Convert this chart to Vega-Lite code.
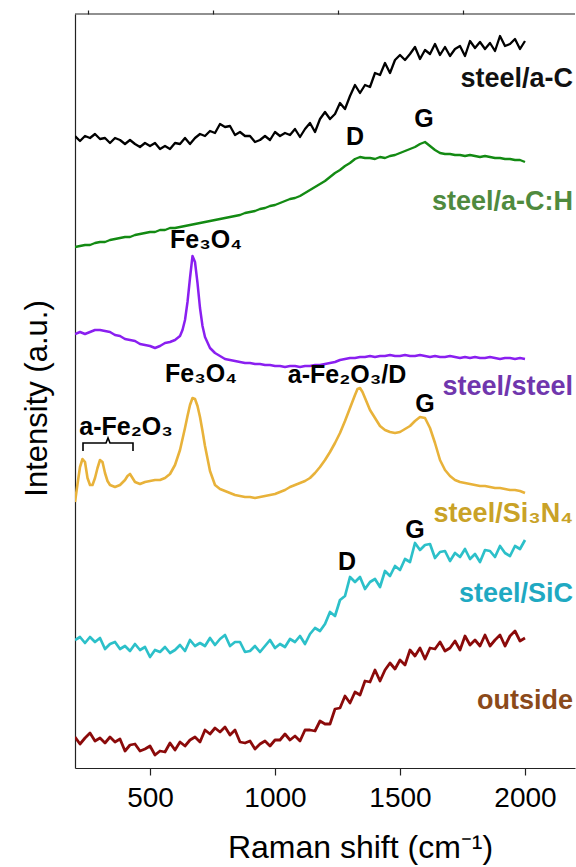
{
  "$schema": "https://vega.github.io/schema/vega-lite/v6.json",
  "width": 500,
  "height": 754,
  "autosize": {"type": "none"},
  "padding": {"left": 75, "top": 14, "right": 1, "bottom": 99},
  "config": {"view": {"stroke": null}, "font": "Liberation Sans"},
  "resolve": {
    "scale": {"color": "independent", "strokeWidth": "independent"},
    "axis": {"x": "independent", "y": "independent"}
  },
  "layer": [
    {
      "data": {"values": [{}]},
      "mark": {"type": "rule", "color": "#222222", "strokeWidth": 1.2},
      "encoding": {"y": {"datum": 754, "type": "quantitative", "axis": null}}
    },
    {
      "data": {"values": [
        {"w":200,"k":632,"g":521,"p":434,"n":266,"c":128,"r":31},
        {"w":210,"n":284},
        {"w":220,"k":627,"g":522,"p":436,"n":301,"c":131,"r":24},
        {"w":230,"n":309},
        {"w":240,"k":632,"g":523,"p":434,"n":306,"c":125,"r":30},
        {"w":250,"n":290},
        {"w":260,"k":630,"g":523,"p":436,"n":283,"c":131,"r":35},
        {"w":270,"n":283},
        {"w":280,"k":634,"g":525,"p":438,"n":290,"c":126,"r":27},
        {"w":290,"n":300},
        {"w":300,"k":629,"g":526,"p":438,"n":308,"c":130,"r":30},
        {"w":310,"n":306},
        {"w":320,"k":630,"g":526,"p":437,"n":295,"c":119,"r":25},
        {"w":330,"n":287},
        {"w":340,"k":625,"g":528,"p":436,"n":283,"c":124,"r":31},
        {"w":360,"k":630,"g":529,"p":433,"n":281,"c":126,"r":26},
        {"w":380,"k":628,"g":530,"p":432,"n":283,"c":119,"r":29},
        {"w":400,"k":624,"g":531,"p":429,"n":288,"c":122,"r":17},
        {"w":410,"n":292},
        {"w":420,"k":628,"g":531,"p":428,"n":294,"c":117,"r":23},
        {"w":430,"n":290},
        {"w":440,"k":624,"g":533,"p":427,"n":286,"c":124,"r":24},
        {"w":460,"k":621,"g":534,"p":424,"n":284,"c":118,"r":17},
        {"w":480,"k":625,"g":535,"p":423,"n":286,"c":121,"r":19},
        {"w":500,"k":622,"g":536,"p":422,"n":287,"c":111,"r":22},
        {"w":520,"k":625,"g":536,"p":420,"n":288,"c":118,"r":13},
        {"w":540,"k":619,"g":538,"p":422,"n":288,"c":116,"r":17},
        {"w":560,"k":622,"g":538,"p":425,"n":290,"c":121,"r":16},
        {"w":580,"k":619,"g":540,"p":426,"n":294,"c":115,"r":25},
        {"w":600,"k":625,"g":540,"p":428,"n":303,"c":118,"r":18},
        {"w":620,"k":624,"g":541,"p":432,"n":318,"c":123,"r":26},
        {"w":630,"p":438},
        {"w":640,"k":630,"g":542,"p":448,"n":340,"c":117,"r":22},
        {"w":650,"p":466,"n":352},
        {"w":660,"k":624,"g":543,"p":490,"n":363,"c":128,"r":28},
        {"w":670,"p":512,"n":370},
        {"w":680,"k":630,"g":544,"p":506,"n":369,"c":122,"r":31},
        {"w":690,"p":485,"n":362},
        {"w":700,"k":634,"g":545,"p":460,"n":351,"c":125,"r":26},
        {"w":710,"p":442,"n":337},
        {"w":720,"k":632,"g":546,"p":431,"n":322,"c":122,"r":38},
        {"w":740,"k":637,"g":547,"p":420,"n":297,"c":130,"r":34},
        {"w":760,"k":635,"g":548,"p":415,"n":283,"c":123,"r":40},
        {"w":780,"k":644,"g":549,"p":412,"n":279,"c":129,"r":36},
        {"w":800,"k":641,"g":550,"p":409,"n":277,"c":133,"r":41},
        {"w":820,"k":642,"g":551,"p":408,"n":275,"c":122,"r":33},
        {"w":840,"k":633,"g":552,"p":407,"n":273,"c":126,"r":38},
        {"w":860,"k":636,"g":553,"p":406,"n":272,"c":126,"r":26},
        {"w":880,"k":632,"g":555,"p":405,"n":271,"c":116,"r":25},
        {"w":900,"k":632,"g":556,"p":405,"n":271,"c":117,"r":27},
        {"w":920,"k":626,"g":557,"p":404,"n":270,"c":122,"r":19},
        {"w":940,"k":628,"g":559,"p":404,"n":271,"c":116,"r":24},
        {"w":960,"k":632,"g":560,"p":403,"n":272,"c":122,"r":27},
        {"w":980,"k":628,"g":562,"p":403,"n":273,"c":128,"r":22},
        {"w":1000,"k":636,"g":563,"p":402,"n":274,"c":120,"r":28},
        {"w":1020,"k":632,"g":565,"p":402,"n":276,"c":124,"r":28},
        {"w":1040,"k":635,"g":567,"p":401,"n":278,"c":121,"r":34},
        {"w":1060,"k":633,"g":569,"p":402,"n":281,"c":129,"r":28},
        {"w":1080,"k":639,"g":570,"p":402,"n":283,"c":126,"r":32},
        {"w":1100,"k":631,"g":572,"p":401,"n":285,"c":132,"r":27},
        {"w":1120,"k":639,"g":575,"p":402,"n":287,"c":124,"r":38},
        {"w":1140,"k":645,"g":578,"p":402,"n":290,"c":134,"r":38},
        {"w":1160,"k":636,"g":581,"p":403,"n":295,"c":140,"r":37},
        {"w":1180,"k":649,"g":584,"p":403,"n":301,"c":137,"r":47},
        {"w":1200,"k":656,"g":587,"p":404,"n":308,"c":144,"r":44},
        {"w":1220,"k":649,"g":591,"p":405,"n":316,"c":156,"r":44},
        {"w":1240,"k":654,"g":595,"p":406,"n":325,"c":152,"r":59},
        {"w":1260,"k":665,"g":598,"p":408,"n":335,"c":168,"r":60},
        {"w":1280,"k":659,"g":602,"p":409,"n":347,"c":172,"r":72},
        {"w":1300,"k":672,"g":605,"p":410,"n":360,"c":191,"r":65},
        {"w":1320,"k":683,"g":609,"p":410,"n":373,"c":186,"r":76},
        {"w":1330,"n":379},
        {"w":1340,"k":675,"g":611,"p":411,"n":380,"c":191,"r":73},
        {"w":1350,"n":376},
        {"w":1360,"k":683,"g":610,"p":411,"n":370,"c":179,"r":87},
        {"w":1380,"k":681,"g":610,"p":412,"n":358,"c":186,"r":86},
        {"w":1400,"k":695,"g":609,"p":411,"n":350,"c":189,"r":98},
        {"w":1420,"k":693,"g":611,"p":412,"n":342,"c":181,"r":87},
        {"w":1440,"k":705,"g":610,"p":412,"n":338,"c":197,"r":98},
        {"w":1460,"k":695,"g":612,"p":413,"n":336,"c":192,"r":105},
        {"w":1480,"k":708,"g":613,"p":412,"n":335,"c":202,"r":99},
        {"w":1500,"k":713,"g":615,"p":412,"n":336,"c":198,"r":108},
        {"w":1520,"k":708,"g":617,"p":413,"n":339,"c":209,"r":103},
        {"w":1540,"k":714,"g":619,"p":412,"n":342,"c":206,"r":118},
        {"w":1560,"k":721,"g":621,"p":412,"n":347,"c":225,"r":112},
        {"w":1580,"k":709,"g":624,"p":413,"n":351,"c":218,"r":120},
        {"w":1600,"k":718,"g":626,"p":412,"n":350,"c":223,"r":109},
        {"w":1620,"k":714,"g":622,"p":411,"n":340,"c":224,"r":120},
        {"w":1640,"k":724,"g":618,"p":412,"n":325,"c":210,"r":119},
        {"w":1660,"k":713,"g":615,"p":411,"n":308,"c":216,"r":126},
        {"w":1680,"k":721,"g":614,"p":411,"n":298,"c":217,"r":117},
        {"w":1700,"k":712,"g":614,"p":412,"n":292,"c":207,"r":120},
        {"w":1720,"k":719,"g":613,"p":411,"n":288,"c":215,"r":127},
        {"w":1740,"k":722,"g":613,"p":410,"n":286,"c":211,"r":118},
        {"w":1760,"k":712,"g":612,"p":411,"n":285,"c":219,"r":132},
        {"w":1780,"k":727,"g":613,"p":410,"n":284,"c":209,"r":123},
        {"w":1800,"k":720,"g":612,"p":411,"n":283,"c":214,"r":128},
        {"w":1820,"k":726,"g":611,"p":410,"n":282,"c":206,"r":122},
        {"w":1840,"k":719,"g":612,"p":410,"n":282,"c":218,"r":133},
        {"w":1860,"k":725,"g":611,"p":411,"n":281,"c":217,"r":122},
        {"w":1880,"k":717,"g":610,"p":410,"n":280,"c":211,"r":128},
        {"w":1900,"k":732,"g":610,"p":409,"n":280,"c":222,"r":133},
        {"w":1920,"k":722,"g":609,"p":410,"n":279,"c":215,"r":122},
        {"w":1940,"k":724,"g":609,"p":410,"n":278,"c":212,"r":132},
        {"w":1960,"k":729,"g":608,"p":409,"n":278,"c":222,"r":137},
        {"w":1980,"k":719,"g":608,"p":410,"n":277,"c":219,"r":127},
        {"w":2000,"k":727,"g":606,"p":409,"n":275,"c":228,"r":130}
      ]},
      "transform": [
        {"fold": ["k", "g", "p", "n", "c", "r"], "as": ["s", "I"]},
        {"filter": "isValid(datum.I)"}
      ],
      "mark": {"type": "line", "strokeJoin": "round", "clip": true},
      "encoding": {
        "x": {
          "field": "w", "type": "quantitative",
          "scale": {"domain": [200, 2200], "nice": false, "zero": false},
          "axis": {
            "values": [500, 1000, 1500, 2000],
            "format": "d",
            "grid": false,
            "tickSize": 7, "tickWidth": 1.2, "tickColor": "#222222",
            "domainColor": "#222222", "domainWidth": 1.2,
            "labelFontSize": 28, "labelColor": "#000000", "labelPadding": 9,
            "labelFont": "Liberation Sans",
            "title": "Raman shift (cm⁻¹)",
            "titleFont": "Liberation Sans",
            "titleFontSize": 32, "titleFontWeight": "normal", "titleColor": "#000000",
            "titleX": 285, "titleY": 89, "titleBaseline": "alphabetic", "titleAlign": "center"
          }
        },
        "y": {
          "field": "I", "type": "quantitative",
          "scale": {"domain": [0, 754], "nice": false, "zero": false},
          "axis": {
            "ticks": false, "labels": false, "grid": false,
            "domainColor": "#222222", "domainWidth": 1.2,
            "title": "Intensity (a.u.)",
            "titleFont": "Liberation Sans",
            "titleFontSize": 31, "titleFontWeight": "normal", "titleColor": "#000000",
            "titleAngle": 270, "titleX": -29, "titleY": 384,
            "titleBaseline": "alphabetic", "titleAlign": "center"
          }
        },
        "color": {
          "field": "s", "type": "nominal",
          "scale": {"domain": ["k", "g", "p", "n", "c", "r"],
                    "range": ["#000000", "#138a13", "#8a1ff0", "#e8b23a", "#2cc0c9", "#8b0a0a"]},
          "legend": null
        },
        "strokeWidth": {
          "field": "s", "type": "nominal",
          "scale": {"domain": ["k", "g", "p", "n", "c", "r"], "range": [2.3, 2.8, 3, 3.2, 2.3, 2.3]},
          "legend": null
        }
      }
    },
    {
      "data": {"values": [
        {"w":232,"I":317,"o":1},
        {"w":232,"I":325,"o":2},
        {"w":324,"I":325,"o":3},
        {"w":332,"I":330,"o":4},
        {"w":340,"I":325,"o":5},
        {"w":432,"I":325,"o":6},
        {"w":432,"I":317,"o":7}
      ]},
      "mark": {"type": "line", "color": "#000000", "strokeWidth": 1.6},
      "encoding": {
        "x": {
          "field": "w", "type": "quantitative",
          "axis": {
            "values": [250, 750, 1250, 1750],
            "grid": false, "labels": false, "domain": false, "title": null,
            "tickSize": 4, "tickWidth": 1.2, "tickColor": "#222222"
          }
        },
        "y": {"field": "I", "type": "quantitative", "axis": null},
        "order": {"field": "o", "type": "quantitative"}
      }
    },
    {
      "data": {"values": [
        {"t": "steel/a-C", "s": "k", "w": 2192, "I": 681},
        {"t": "steel/a-C:H", "s": "g", "w": 2192, "I": 558},
        {"t": "steel/steel", "s": "p", "w": 2192, "I": 373},
        {"t": "steel/Si₃N₄", "s": "n", "w": 2192, "I": 246},
        {"t": "steel/SiC", "s": "c", "w": 2192, "I": 166},
        {"t": "outside", "s": "r", "w": 2192, "I": 59}
      ]},
      "mark": {"type": "text", "align": "right", "baseline": "alphabetic", "fontSize": 27, "fontWeight": "bold", "font": "Liberation Sans"},
      "encoding": {
        "x": {"field": "w", "type": "quantitative", "axis": null},
        "y": {"field": "I", "type": "quantitative", "axis": null},
        "text": {"field": "t"},
        "color": {
          "field": "s", "type": "nominal",
          "scale": {"domain": ["k", "g", "p", "n", "c", "r"],
                    "range": ["#111111", "#4f8a3e", "#7036ad", "#c9a227", "#1fa9c2", "#8b4a1a"]},
          "legend": null
        }
      }
    },
    {
      "data": {"values": [
        {"t": "D", "w": 1320, "I": 623},
        {"t": "G", "w": 1596, "I": 641},
        {"t": "Fe₃O₄", "w": 724, "I": 520},
        {"t": "Fe₃O₄", "w": 704, "I": 386},
        {"t": "a-Fe₂O₃/D", "w": 1288, "I": 385},
        {"t": "G", "w": 1600, "I": 356},
        {"t": "a-Fe₂O₃", "w": 404, "I": 333},
        {"t": "D", "w": 1288, "I": 198},
        {"t": "G", "w": 1560, "I": 230}
      ]},
      "mark": {"type": "text", "align": "center", "baseline": "alphabetic", "fontSize": 25, "fontWeight": "bold", "font": "Liberation Sans", "color": "#000000"},
      "encoding": {
        "x": {"field": "w", "type": "quantitative", "axis": null},
        "y": {"field": "I", "type": "quantitative", "axis": null},
        "text": {"field": "t"}
      }
    }
  ]
}
